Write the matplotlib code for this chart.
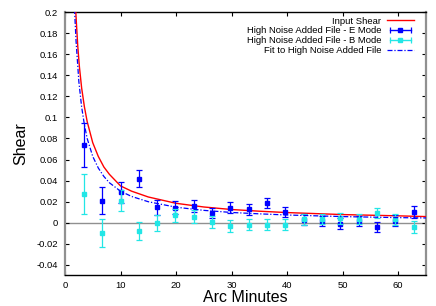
import matplotlib
matplotlib.use("Agg")
import matplotlib.pyplot as plt
from matplotlib.lines import Line2D
from matplotlib.legend_handler import HandlerLine2D, HandlerTuple
from matplotlib.ticker import FormatStrFormatter

plt.rcParams['font.family'] = ['Liberation Sans', 'DejaVu Sans']

# ---- data ----
bin_x = [3.4, 6.7, 10.0, 13.3, 16.6, 19.9, 23.2, 26.5, 29.8, 33.1,
         36.4, 39.7, 43.0, 46.3, 49.6, 52.9, 56.2, 59.5, 62.8]
e_mode = [0.074, 0.021, 0.029, 0.042, 0.0148, 0.0145, 0.016, 0.0093, 0.0145, 0.0128,
          0.0188, 0.0102, 0.003, 0.0015, -0.0008, 0.0018, -0.0042, 0.002, 0.0105]
e_err = [0.021, 0.013, 0.010, 0.0085, 0.007, 0.006, 0.006, 0.005, 0.005, 0.0055,
         0.005, 0.005, 0.005, 0.005, 0.005, 0.005, 0.005, 0.005, 0.0055]
b_mode = [0.0275, -0.0097, 0.0208, -0.0082, -0.0002, 0.007, 0.0058, 0.0008, -0.0032, -0.0018,
          -0.0018, -0.0018, 0.0032, 0.0038, 0.0042, 0.0035, 0.0092, 0.0032, -0.0042]
b_err = [0.019, 0.0135, 0.010, 0.0085, 0.0075, 0.0065, 0.006, 0.006, 0.0055, 0.0055,
         0.0055, 0.005, 0.005, 0.005, 0.005, 0.005, 0.005, 0.005, 0.0055]

input_x = [1.85, 2.0, 2.3, 2.6, 3.0, 3.5, 4.0, 5.0, 6.0, 7.0, 8.0, 10.0, 12.0,
           15.0, 20.0, 25.0, 30.0, 35.0, 40.0, 50.0, 60.0, 65.0]
input_y = [0.21, 0.195, 0.168, 0.148, 0.128, 0.110, 0.096, 0.076, 0.063, 0.053, 0.046,
           0.035, 0.030, 0.0245, 0.0185, 0.0150, 0.0126, 0.0110, 0.0097, 0.0078, 0.0066, 0.0059]

fit_x = [1.6, 1.74, 2.0, 2.5, 3.0, 3.5, 4.0, 5.0, 6.0, 7.0, 8.0, 10.0, 12.0,
         15.0, 20.0, 25.0, 30.0, 35.0, 40.0, 50.0, 60.0, 65.0]
fit_y = [0.215, 0.2, 0.172, 0.134, 0.110, 0.093, 0.080, 0.063, 0.052, 0.044, 0.038,
         0.030, 0.025, 0.020, 0.0148, 0.0118, 0.0098, 0.0085, 0.0074, 0.0059, 0.0049, 0.0046]

x_ticks = [0, 10, 20, 30, 40, 50, 60]
y_ticks = [-0.04, -0.02, 0, 0.02, 0.04, 0.06, 0.08, 0.1, 0.12, 0.14, 0.16, 0.18, 0.2]

labels = ["Input Shear", "High Noise Added File - E Mode",
          "High Noise Added File - B Mode", "Fit to High Noise Added File"]

RED = '#ff0000'
BLUE = '#0000ff'
CYAN = '#22e6e6'
GRAY = '#909090'

fig = plt.figure(figsize=(4.36, 3.06), dpi=100)
ax = fig.add_axes([0.149, 0.0997, 0.828, 0.861])

ax.axhline(0, color=GRAY, lw=1.0, zorder=1)

ax.plot(input_x, input_y, color=RED, lw=1.0, zorder=3)
ax.errorbar(bin_x, e_mode, yerr=e_err, fmt='s', color=BLUE, ms=3.2, elinewidth=0.9,
            capsize=2.2, capthick=0.9, zorder=4)
ax.errorbar(bin_x, b_mode, yerr=b_err, fmt='s', color=CYAN, ms=3.2, elinewidth=0.9,
            capsize=2.2, capthick=0.9, zorder=5)
ax.plot(fit_x, fit_y, color=BLUE, lw=0.9, ls=(0, (4, 1.5, 1, 1.5)), zorder=6)

ax.set_xlim(0, 65)
ax.set_ylim(-0.05, 0.2)
ax.set_xticks(x_ticks)
ax.set_yticks(y_ticks)
ax.yaxis.set_major_formatter(FormatStrFormatter('%g'))
ax.tick_params(direction='in', length=2.8, width=0.8, labelsize=6.8,
               top=True, right=True, colors='black')
ax.tick_params(axis='x', pad=4)
ax.tick_params(axis='y', pad=5)

for s in ['top', 'bottom']:
    ax.spines[s].set_color('black')
    ax.spines[s].set_linewidth(1.0)
for s in ['left', 'right']:
    ax.spines[s].set_color(GRAY)
    ax.spines[s].set_linewidth(1.6)

ax.set_xlabel("Arc Minutes", fontsize=11.5, labelpad=0)
ax.set_ylabel("Shear", fontsize=11.5, labelpad=6)

# legend proxies (gnuplot-like)
h_in = Line2D([], [], color=RED, lw=1.0)
e_caps = Line2D([], [], color=BLUE, lw=1.0, marker='|', ms=4, mew=0.9)
e_sq = Line2D([], [], color=BLUE, ls='none', marker='s', ms=3.2)
b_caps = Line2D([], [], color=CYAN, lw=1.0, marker='|', ms=4, mew=0.9)
b_sq = Line2D([], [], color=CYAN, ls='none', marker='s', ms=3.2)
h_fit = Line2D([], [], color=BLUE, lw=0.9, ls=(0, (4, 1.5, 1, 1.5)))

hm = {e_caps: HandlerLine2D(numpoints=2), b_caps: HandlerLine2D(numpoints=2),
      e_sq: HandlerLine2D(numpoints=1), b_sq: HandlerLine2D(numpoints=1),
      tuple: HandlerTuple(ndivide=1, pad=0)}
leg = ax.legend([h_in, (e_caps, e_sq), (b_caps, b_sq), h_fit], labels,
                handler_map=hm, loc='upper right', bbox_to_anchor=(0.967, 0.983),
                frameon=False, fontsize=6.8, markerfirst=False, borderpad=0,
                borderaxespad=0, handlelength=2.9, handletextpad=0.55,
                labelspacing=0.1)

fig.savefig("out.png", dpi=100)
